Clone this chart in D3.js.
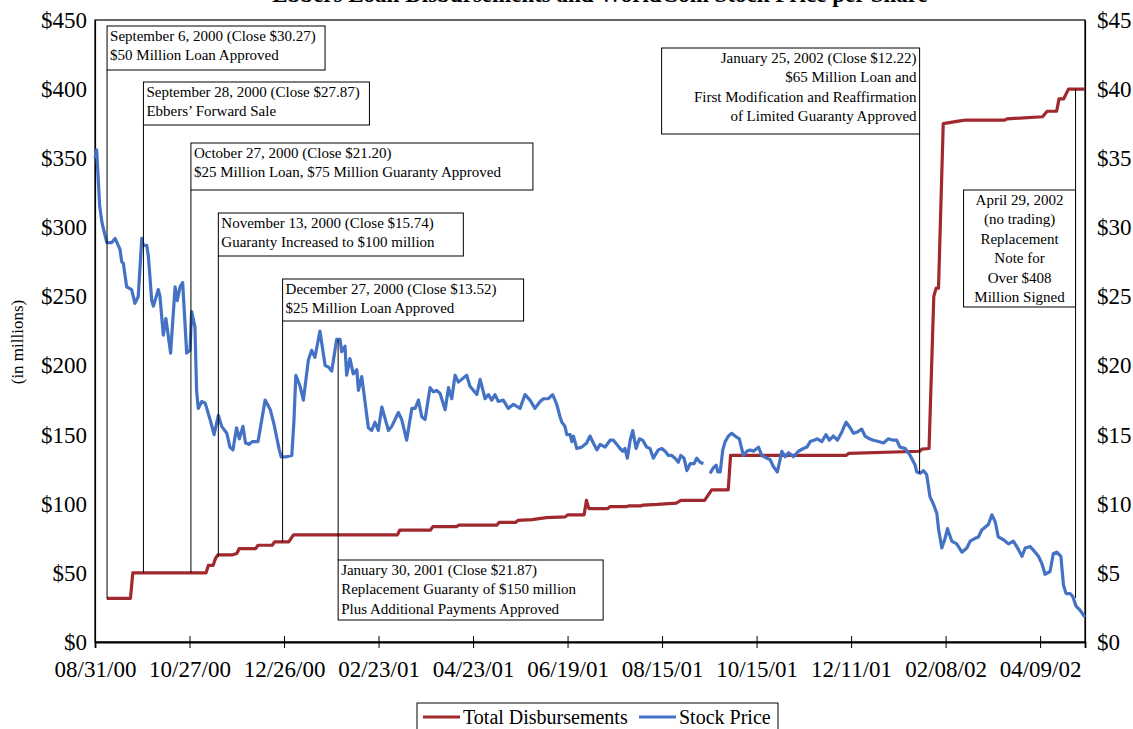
<!DOCTYPE html>
<html>
<head>
<meta charset="utf-8">
<script src="https://cdn.jsdelivr.net/npm/d3@7/dist/d3.min.js"></script>
<style>
  body { margin: 0; background: #fff; }
  text { font-family: "Liberation Serif", "Times New Roman", serif; fill: #000; }
</style>
</head>
<body>
<svg id="chart" width="1133" height="729"></svg>
<script>
// trading-day index of each category tick and its label
const tickDays = [0, 40, 80, 120, 160, 200, 240, 280, 320, 360, 400];
const tickLabels = ['08/31/00', '10/27/00', '12/26/00', '02/23/01', '04/23/01', '06/19/01',
                    '08/15/01', '10/15/01', '12/11/01', '02/08/02', '04/09/02'];
const loanTicks = [0, 50, 100, 150, 200, 250, 300, 350, 400, 450];
const priceTicks = [0, 5, 10, 15, 20, 25, 30, 35, 40, 45];

// [trading day, total disbursed $ millions]
const disbursements = [
  [5, 31.5], [15, 31.5], [16, 50], [47, 50], [48, 55.5], [50, 55.5], [51, 60.5], [52, 63], [58, 63],
  [60, 64], [61, 67.5], [68, 67.5], [69, 70], [75, 70], [76, 72.5], [82, 72.5], [84, 77.5], [128, 77.5],
  [129, 81], [142, 81], [143, 83.5], [153, 83.5], [154, 84.5], [170, 84.5], [171, 86.5], [178, 86.5],
  [179, 88], [185, 88.5], [191, 90], [199, 90.5], [200, 92], [207, 92], [208, 102.5], [209, 96.5],
  [217, 96.5], [218, 98], [225, 98], [226, 98.5], [231, 98.5], [232, 99], [238, 99.5], [246, 100.5],
  [248, 102.5], [258, 102.5], [259, 105], [261, 110], [268, 110], [269, 135], [318, 135], [319, 136.5],
  [349, 138], [350, 139.5], [353, 140], [355, 250], [356, 256], [357, 256], [359, 375], [366, 377],
  [368, 377.5], [385, 377.5], [386, 378.5], [401, 380], [403, 384], [407, 384], [408, 393], [410, 393],
  [412, 400], [419, 400]
];

// [trading day, closing price $]; null = market closed after Sept 11
const stockPrice = [
  [0, 35], [0.7, 35.6], [2, 31.5], [3, 30.3], [5, 28.9], [7.1, 28.9], [8.5, 29.2], [10.6, 28.4], [11.3, 27.5],
  [12, 27.4], [13.4, 25.7], [15.5, 25.5], [16.9, 24.5], [18.3, 25], [19.8, 29.2], [20.4, 28.7], [21.9, 28.7],
  [22.6, 27.9], [24, 24.7], [24.7, 24.3], [26.8, 25.5], [27.5, 25], [28.9, 22.2], [30, 23.4], [32, 20.9],
  [33.9, 25.7], [34.8, 24.7], [36, 25.7], [37.1, 26], [38.8, 20.9], [40.2, 21.1], [40.9, 23.9], [42.3, 22.8],
  [43, 18.2], [43.7, 16.9], [45.2, 17.4], [46.6, 17.3], [48.7, 16.1], [50.4, 15], [52.2, 16.4], [53.6, 15.6],
  [55.8, 15.1], [57.1, 14.1], [58.4, 13.9], [59.9, 15.5], [61.1, 14.7], [62.6, 15.6], [63.7, 14.4], [65.1, 14.3],
  [66.7, 14.5], [69, 14.5], [72, 17.5], [74.2, 16.8], [75.7, 15.8], [78, 13.9], [78.8, 13.4], [81, 13.4],
  [83.3, 13.5], [84.2, 16], [85, 19.3], [86.8, 18.5], [88.2, 17.5], [90.3, 20.4], [91.7, 21.1], [93.1, 20.6],
  [95.2, 22.5], [97.4, 20], [98.8, 19.9], [100.2, 19.6], [102.3, 21.9], [103.7, 21.9], [104.4, 21], [105.8, 21.4],
  [106.5, 19.3], [107.9, 20.5], [109.3, 19.4], [110.8, 19.7], [111.5, 18.2], [112.9, 19.2], [115.7, 15.5],
  [117.1, 15.3], [118.5, 15.9], [119.9, 15.3], [121.4, 17], [124.2, 15.3], [125.6, 15.6], [128.4, 16.6],
  [129.8, 16.1], [131.9, 14.6], [134.1, 16.9], [135.5, 16.9], [136.9, 17.5], [138.3, 16.3], [139.7, 16.1],
  [141.8, 18.4], [143.2, 18.1], [144.6, 18.2], [146, 18], [148.2, 16.8], [149.6, 18.4], [151, 17.6],
  [152.4, 19.3], [153.8, 18.8], [155.2, 19], [157.3, 19.3], [158.7, 18.5], [161.6, 17.9], [163, 19],
  [165.1, 17.6], [166.5, 17.9], [167.9, 17.5], [169.3, 17.9], [170.7, 17.4], [172.8, 17.5], [174.9, 16.9],
  [177.1, 17.2], [179.9, 16.9], [182, 17.9], [184.1, 17.5], [186.2, 16.9], [188.4, 17.4], [189.8, 17.6],
  [191.9, 17.6], [193.7, 17.9], [195.4, 17.2], [196.8, 16.3], [197.6, 15.9], [198.9, 15.6], [199.7, 15],
  [201.1, 15], [201.8, 14.5], [202.5, 14.9], [203.9, 14], [206, 14.1], [208.1, 14.4], [209.5, 14.9],
  [210.9, 14.4], [212.4, 13.9], [213.8, 14.3], [215.9, 14.1], [218, 14.6], [219.4, 14.6], [220.8, 14.3],
  [222.2, 14], [223.4, 13.8], [224.3, 14], [225.3, 13.3], [226.5, 14.6], [227.6, 15.3], [229, 14],
  [230.4, 14.7], [231.8, 14.6], [233.5, 14.1], [234.9, 14], [236.3, 13.3], [238.4, 13.9], [239.9, 14],
  [241.3, 13.8], [242.7, 13.5], [244.1, 13.5], [245.5, 13.3], [246.9, 13], [247.9, 13.5], [249.3, 13.3],
  [250.5, 12.4], [251.9, 12.9], [253.5, 12.9], [254.7, 13.3], [256.1, 13], [257.5, 12.9], [258.5, null],
  [260.3, 12.2], [261.7, 12.6], [262.9, 12.8], [263.6, 12.3], [264.6, 12.3], [265.7, 13.9], [266.7, 14.5],
  [268.1, 14.9], [269.5, 15.1], [270.9, 14.9], [272.7, 14.7], [274.4, 13.5], [275.9, 13.8], [277.3, 13.9],
  [278.7, 13.8], [280.8, 14.1], [282.2, 13.5], [284.3, 13.3], [285.7, 13.2], [287.1, 12.7], [288.8, 12.3],
  [290.7, 13.8], [292.1, 13.4], [293.5, 13.7], [295.6, 13.4], [297.7, 13.8], [299.8, 14], [301.3, 14.1],
  [302.7, 14.5], [304.3, 14.6], [305.7, 14.7], [307.6, 14.5], [309.4, 15], [310.8, 14.6], [312.5, 14.9],
  [314.2, 14.6], [316.1, 15.2], [317.9, 15.9], [319.6, 15.5], [321, 15.1], [322.7, 15.2], [324.5, 15.4],
  [325.9, 14.9], [327.8, 14.7], [329.4, 14.6], [331.6, 14.5], [333.7, 14.4], [335.8, 14.7], [337.7, 14.6],
  [339.3, 14.6], [340.7, 14.1], [342.9, 14], [345, 13.5], [347.1, 12.8], [347.8, 12.3], [349.2, 12.2],
  [350.6, 12.4], [352, 12.1], [353.4, 10.5], [354.8, 10], [356.3, 9.3], [357, 8.2], [358.4, 6.8], [359.8, 7.5],
  [360.8, 8.2], [362.6, 7.3], [364.7, 7.1], [366.9, 6.5], [369, 6.8], [370.4, 7.3], [372.5, 7.5], [373.9, 7.6],
  [375.3, 8.1], [376.7, 8.3], [378.1, 8.5], [379.6, 9.2], [381, 8.7], [382.3, 7.6], [384.5, 7.4], [386.6, 7.1],
  [388.7, 7.3], [390.8, 6.7], [392.3, 6.2], [393.7, 6.8], [395.8, 6.9], [397.9, 6.5], [399.3, 6.2],
  [400.7, 5.7], [402.1, 4.9], [404.2, 5.1], [405.6, 6.4], [407.1, 6.5], [408.8, 6.2], [409.9, 4.1],
  [411, 3.5], [412.7, 3.5], [413.8, 3.3], [415.2, 2.6], [416.9, 2.3], [419, 1.8]
];

// callouts: day of the event, text, and where the leader line ends
const events = [
  { day: 5.1, lines: ['September 6, 2000 (Close $30.27)', '$50 Million Loan Approved'], end: ['loan', 31.5] },
  { day: 20.5, lines: ['September 28, 2000 (Close $27.87)', 'Ebbers\u2019 Forward Sale'], end: ['loan', 50] },
  { day: 40.6, lines: ['October 27, 2000 (Close $21.20)', '$25 Million Loan, $75 Million Guaranty Approved'], end: ['loan', 50] },
  { day: 52.2, lines: ['November 13, 2000 (Close $15.74)', 'Guaranty Increased to $100 million'], end: ['loan', 61.5] },
  { day: 79.4, lines: ['December 27, 2000 (Close $13.52)', '$25 Million Loan Approved'], end: ['loan', 72.5] },
  { day: 102.9, lines: ['January 30, 2001 (Close $21.87)', 'Replacement Guaranty of $150 million', 'Plus Additional Payments Approved'], end: ['price', 21.87] },
  { day: 349, lines: ['January 25, 2002 (Close $12.22)', '$65 Million Loan and', 'First Modification and Reaffirmation', 'of Limited Guaranty Approved'], end: ['price', 12.22] },
  { day: 415, lines: ['April 29, 2002', '(no trading)', 'Replacement', 'Note for', 'Over $408', 'Million Signed'], start: ['loan', 400], end: ['price', 3.2] }
];

// box placement for each callout (layout only)
const boxes = [
  { top: 26, w: 218, h: 44, anchor: 'left', align: 'start' },
  { top: 82, w: 226, h: 43, anchor: 'left', align: 'start' },
  { top: 143, w: 342, h: 47, anchor: 'left', align: 'start' },
  { top: 213, w: 245, h: 43, anchor: 'left', align: 'start' },
  { top: 279, w: 241, h: 42, anchor: 'left', align: 'start' },
  { top: 560, w: 265, h: 60, anchor: 'left', align: 'start' },
  { top: 48, w: 258, h: 86, anchor: 'right', align: 'end' },
  { top: 190, w: 112, h: 117, anchor: 'right', align: 'middle' }
];

const svg = d3.select('#chart');
const plotLeft = 95, plotRight = 1085, plotTop = 20, plotBottom = 642;
const red = '#A0292E', blue = '#4472C4';

const x = d3.scaleLinear().domain([0, 419]).range([plotLeft, plotRight]);
const yLoan = d3.scaleLinear().domain([0, 450]).range([plotBottom, plotTop]);
const yPrice = d3.scaleLinear().domain([0, 45]).range([plotBottom, plotTop]);
const yOf = function(p) { return p[0] === 'loan' ? yLoan(p[1]) : yPrice(p[1]); };

// title, cut by the top edge as in the source image
svg.append('text')
  .attr('x', 600).attr('y', 1.5)
  .attr('text-anchor', 'middle')
  .style('font-size', '23px').style('font-weight', 'bold')
  .text('Ebbers Loan Disbursements and WorldCom Stock Price per Share');

// plot frame
svg.append('rect')
  .attr('x', plotLeft).attr('y', plotTop)
  .attr('width', plotRight - plotLeft).attr('height', plotBottom - plotTop)
  .attr('fill', 'none').attr('stroke', '#000').attr('stroke-width', 1.2);

// axes
let xAxis = svg.append('g')
  .attr('transform', 'translate(0,' + plotBottom + ')')
  .call(d3.axisBottom(x).tickValues(tickDays).tickFormat(function(d, i) { return tickLabels[i]; })
    .tickSize(6).tickPadding(13));
xAxis.selectAll('.tick line').attr('y1', -6).attr('stroke', '#000');
xAxis.select('.domain').attr('stroke', '#000').attr('stroke-width', 1.8);
xAxis.selectAll('text').style('font-size', '23px').style('font-family', '"Liberation Serif", serif');

let yAxisL = svg.append('g')
  .attr('transform', 'translate(' + plotLeft + ',0)')
  .call(d3.axisLeft(yLoan).tickValues(loanTicks).tickFormat(function(d) { return '$' + d; })
    .tickSize(0).tickPadding(8));
yAxisL.select('.domain').attr('stroke', '#000').attr('stroke-width', 1.2);
yAxisL.selectAll('text').style('font-size', '23px').style('font-family', '"Liberation Serif", serif');

let yAxisR = svg.append('g')
  .attr('transform', 'translate(' + plotRight + ',0)')
  .call(d3.axisRight(yPrice).tickValues(priceTicks).tickFormat(function(d) { return '$' + d; })
    .tickSize(0).tickPadding(12));
yAxisR.select('.domain').attr('stroke', '#000').attr('stroke-width', 1.2);
yAxisR.selectAll('text').style('font-size', '23px').style('font-family', '"Liberation Serif", serif');

svg.append('text')
  .attr('transform', 'translate(23,342) rotate(-90)')
  .attr('text-anchor', 'middle')
  .style('font-size', '17px')
  .text('(in millions)');

// series
let loanLine = d3.line()
  .x(function(d) { return x(d[0]); })
  .y(function(d) { return yLoan(d[1]); });

let priceLine = d3.line()
  .defined(function(d) { return d[1] !== null; })
  .x(function(d) { return x(d[0]); })
  .y(function(d) { return yPrice(d[1]); });

svg.append('path')
  .datum(disbursements)
  .attr('d', loanLine)
  .attr('fill', 'none').attr('stroke', red)
  .attr('stroke-width', 3.2).attr('stroke-linejoin', 'round');

svg.append('path')
  .datum(stockPrice)
  .attr('d', priceLine)
  .attr('fill', 'none').attr('stroke', blue)
  .attr('stroke-width', 3.2).attr('stroke-linejoin', 'round');

// callouts
let notes = svg.append('g').attr('class', 'notes');
events.forEach(function(ev, i) {
  let b = boxes[i];
  let lx = x(ev.day);
  let bx = b.anchor === 'left' ? lx : lx - b.w;
  let y1, y2;
  if (ev.start) {
    y1 = yOf(ev.start);
    y2 = yOf(ev.end);
  } else if (yOf(ev.end) > b.top) {
    y1 = b.top + b.h;
    y2 = yOf(ev.end);
  } else {
    y1 = yOf(ev.end);
    y2 = b.top;
  }
  notes.append('line')
    .attr('x1', lx).attr('x2', lx)
    .attr('y1', y1).attr('y2', y2)
    .attr('stroke', '#000').attr('stroke-width', 1);

  notes.append('rect')
    .attr('x', bx).attr('y', b.top)
    .attr('width', b.w).attr('height', b.h)
    .attr('fill', '#fff').attr('stroke', '#000').attr('stroke-width', 1);

  let tx = b.align === 'start' ? bx + 3 : (b.align === 'end' ? bx + b.w - 3 : bx + b.w / 2);
  notes.selectAll(null)
    .data(ev.lines)
    .enter()
    .append('text')
    .attr('x', tx)
    .attr('y', function(d, j) { return b.top + 15 + j * 19.4; })
    .attr('text-anchor', b.align)
    .style('font-size', '15px')
    .text(function(d) { return d; });
});

// legend
let legend = svg.append('g').attr('transform', 'translate(417,703)');
legend.append('rect')
  .attr('width', 361).attr('height', 40)
  .attr('fill', '#fff').attr('stroke', '#000').attr('stroke-width', 1);
let legendItems = [['Total Disbursements', red, 6], ['Stock Price', blue, 222]];
legendItems.forEach(function(it) {
  legend.append('line')
    .attr('x1', it[2]).attr('x2', it[2] + 37)
    .attr('y1', 14).attr('y2', 14)
    .attr('stroke', it[1]).attr('stroke-width', 3.2);
  legend.append('text')
    .attr('x', it[2] + 40).attr('y', 21)
    .style('font-size', '20px')
    .text(it[0]);
});
</script>
</body>
</html>
